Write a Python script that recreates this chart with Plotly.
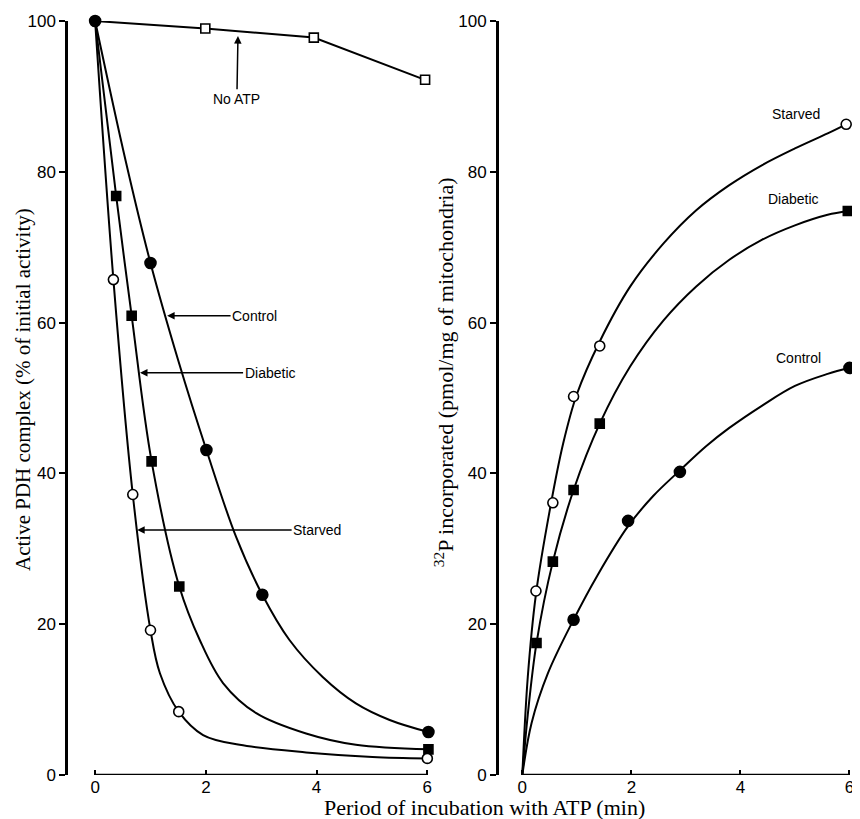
import plotly.graph_objects as go

# ---- panel A: active PDH complex (% of initial activity) ----
noatp_t = [0, 1.99, 3.95, 5.96]
noatp_pct = [100, 99.0, 97.8, 92.2]

control_t = [0, 1.0, 2.01, 3.02, 6.02]
control_pct = [100, 67.9, 43.1, 23.9, 5.7]
control_curve_t = [0, 0.55, 1.0, 1.5, 2.01, 2.55, 3.02, 3.51, 4.11, 4.71, 5.32, 6.02]
control_curve_pct = [100, 81.5, 67.9, 55.0, 43.1, 31.5, 23.9, 17.9, 13.0, 9.5, 7.3, 5.7]

diabetic_t = [0, 0.38, 0.66, 1.02, 1.52, 6.02]
diabetic_pct = [100, 76.8, 60.9, 41.6, 25.0, 3.4]
diabetic_curve_t = [0, 0.38, 0.66, 1.02, 1.52, 1.89, 2.31, 2.91, 3.81, 4.71, 6.02]
diabetic_curve_pct = [100, 76.8, 60.9, 41.6, 25.0, 17.9, 12.2, 8.2, 5.5, 4.0, 3.4]

starved_t = [0, 0.33, 0.68, 1.0, 1.51, 6.0]
starved_pct = [100, 65.7, 37.2, 19.2, 8.4, 2.2]
starved_curve_t = [0, 0.33, 0.68, 1.0, 1.17, 1.51, 1.95, 2.61, 3.81, 5.01, 6.0]
starved_curve_pct = [100, 65.7, 37.2, 19.2, 13.5, 8.4, 5.3, 4.0, 3.0, 2.4, 2.2]

# ---- panel B: 32P incorporated (pmol/mg of mitochondria) ----
starved_p_t = [0.25, 0.56, 0.94, 1.42, 5.94]
starved_p = [24.4, 36.1, 50.2, 56.9, 86.3]
starved_p_curve_t = [0, 0.1, 0.25, 0.5, 0.75, 1.0, 1.42, 1.98, 2.59, 3.19, 3.79, 4.40, 5.0, 5.6, 5.94]
starved_p_curve = [0, 13.0, 24.0, 35.0, 44.0, 50.5, 57.5, 64.8, 70.5, 74.9, 78.2, 80.9, 83.1, 85.1, 86.3]

diabetic_p_t = [0.26, 0.56, 0.94, 1.42, 5.97]
diabetic_p = [17.5, 28.3, 37.8, 46.6, 74.8]
diabetic_p_curve_t = [0, 0.1, 0.26, 0.56, 0.94, 1.42, 1.98, 2.59, 3.19, 3.79, 4.40, 5.0, 5.6, 5.97]
diabetic_p_curve = [0, 8.0, 17.5, 28.3, 37.8, 46.6, 54.2, 60.3, 64.8, 68.3, 71.0, 72.9, 74.3, 74.8]

control_p_t = [0.94, 1.94, 2.89, 6.0]
control_p = [20.6, 33.7, 40.2, 54.0]
control_p_curve_t = [0, 0.17, 0.47, 0.94, 1.38, 1.94, 2.4, 2.89, 3.37, 3.79, 4.40, 5.0, 5.6, 6.0]
control_p_curve = [0, 6.9, 13.5, 20.6, 26.5, 33.0, 37.0, 40.4, 43.6, 46.0, 49.0, 51.6, 53.2, 54.0]

x_ticks = [0, 2, 4, 6]
y_ticks = [0, 20, 40, 60, 80, 100]

BLACK = "black"
SANS = "Liberation Sans, Arial, sans-serif"
SERIF = "Liberation Serif, Times New Roman, serif"

fig = go.Figure()


def curve(x, y, xa, ya):
    fig.add_trace(go.Scatter(x=x, y=y, mode="lines", xaxis=xa, yaxis=ya,
                             line=dict(color=BLACK, width=2, shape="spline", smoothing=1.0),
                             cliponaxis=False, showlegend=False, hoverinfo="skip"))


def points(x, y, xa, ya, symbol, size, fill):
    fig.add_trace(go.Scatter(x=x, y=y, mode="markers", xaxis=xa, yaxis=ya,
                             marker=dict(symbol=symbol, size=size, color=fill,
                                         line=dict(color=BLACK, width=1.6)),
                             cliponaxis=False, showlegend=False))


# panel A
fig.add_trace(go.Scatter(x=noatp_t, y=noatp_pct, mode="lines", xaxis="x", yaxis="y",
                         line=dict(color=BLACK, width=2), cliponaxis=False, showlegend=False))
curve(control_curve_t, control_curve_pct, "x", "y")
curve(diabetic_curve_t, diabetic_curve_pct, "x", "y")
curve(starved_curve_t, starved_curve_pct, "x", "y")
points(noatp_t[1:], noatp_pct[1:], "x", "y", "square", 9, "white")
points(control_t, control_pct, "x", "y", "circle", 11, BLACK)
points(diabetic_t[1:], diabetic_pct[1:], "x", "y", "square", 9, BLACK)
points(starved_t[1:], starved_pct[1:], "x", "y", "circle", 10, "white")

# panel B
curve(starved_p_curve_t, starved_p_curve, "x2", "y2")
curve(diabetic_p_curve_t, diabetic_p_curve, "x2", "y2")
curve(control_p_curve_t, control_p_curve, "x2", "y2")
points(starved_p_t, starved_p, "x2", "y2", "circle", 10, "white")
points(diabetic_p_t, diabetic_p, "x2", "y2", "square", 9, BLACK)
points(control_p_t, control_p, "x2", "y2", "circle", 11, BLACK)

xax = dict(range=[-0.49, 6.05], tickvals=x_ticks, ticks="inside", ticklen=5, tickwidth=2,
           tickcolor=BLACK, showline=False, showgrid=False, zeroline=False,
           tickfont=dict(family=SANS, size=17, color=BLACK))
yax = dict(range=[0, 100], tickvals=y_ticks, ticks="outside", ticklen=6, tickwidth=2,
           tickcolor=BLACK, showline=True, linewidth=2.5, linecolor=BLACK,
           showgrid=False, zeroline=False, tickfont=dict(family=SANS, size=17, color=BLACK))

# page body has an 8px margin, so the figure is a little smaller than the window
fig.update_layout(
    width=852, height=811,
    margin=dict(l=60, r=2, t=13, b=44),
    paper_bgcolor="white", plot_bgcolor="white",
    xaxis=dict(xax, domain=[0, 0.4595], anchor="y"),
    yaxis=dict(yax, anchor="x"),
    xaxis2=dict(xax, domain=[0.5468, 1], anchor="y2", range=[-0.43, 6.12]),
    yaxis2=dict(yax, anchor="x2"),
    showlegend=False,
)

# x-axis lines run only from the first to the last tick
for xr, yr in [("x", "y"), ("x2", "y2")]:
    fig.add_shape(type="line", xref=xr, yref=yr, x0=x_ticks[0], x1=x_ticks[-1], y0=0, y1=0,
                  line=dict(color=BLACK, width=2.5))

lab = dict(family=SANS, size=14, color=BLACK)
arrow = dict(showarrow=True, arrowhead=2, arrowsize=1, arrowwidth=1.5, arrowcolor=BLACK)

fig.add_annotation(x=2.58, y=98.0, ax=2.56, ay=89.7, xref="x", yref="y", axref="x", ayref="y",
                   text="No ATP", font=lab, **arrow)
fig.add_annotation(x=1.30, y=60.9, ax=2.88, ay=60.9, xref="x", yref="y", axref="x", ayref="y",
                   text="Control", font=lab, **arrow)
fig.add_annotation(x=0.81, y=53.35, ax=3.16, ay=53.35, xref="x", yref="y", axref="x", ayref="y",
                   text="Diabetic", font=lab, **arrow)
fig.add_annotation(x=0.76, y=32.5, ax=4.01, ay=32.5, xref="x", yref="y", axref="x", ayref="y",
                   text="Starved", font=lab, **arrow)

fig.add_annotation(x=5.02, y=87.7, xref="x2", yref="y2", text="Starved", showarrow=False, font=lab)
fig.add_annotation(x=4.98, y=76.4, xref="x2", yref="y2", text="Diabetic", showarrow=False, font=lab)
fig.add_annotation(x=5.07, y=55.3, xref="x2", yref="y2", text="Control", showarrow=False, font=lab)

# axis titles
fig.add_annotation(x=-0.058, y=0.511, xref="paper", yref="paper", xanchor="center", yanchor="middle",
                   textangle=-90, showarrow=False,
                   text="Active PDH complex (% of initial activity)",
                   font=dict(family=SERIF, size=21, color=BLACK))
fig.add_annotation(x=0.477, y=0.534, xref="paper", yref="paper", xanchor="center", yanchor="middle",
                   textangle=-90, showarrow=False,
                   text="<sup>32</sup>P incorporated (pmol/mg of mitochondria)",
                   font=dict(family=SERIF, size=22, color=BLACK))
fig.add_annotation(x=0.528, y=-0.043, xref="paper", yref="paper", xanchor="center", yanchor="middle",
                   showarrow=False, text="Period of incubation with ATP (min)",
                   font=dict(family=SERIF, size=22, color=BLACK))

fig.write_html("out.html")
